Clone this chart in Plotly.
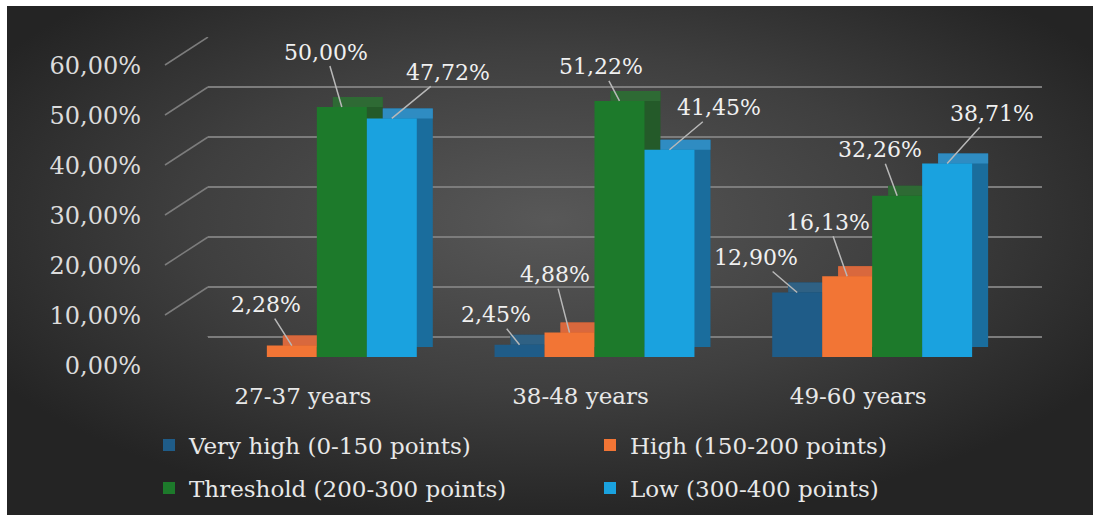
import base64
import plotly.graph_objects as go

# ---------------- data ----------------
categories = ["27-37 years", "38-48 years", "49-60 years"]
series_names = ["Very high (0-150 points)", "High (150-200 points)",
                "Threshold (200-300 points)", "Low (300-400 points)"]
very_high = [0.00, 2.45, 12.90]
high = [2.28, 4.88, 16.13]
threshold = [50.00, 51.22, 32.26]
low = [47.72, 41.45, 38.71]
y_ticks = [0, 10, 20, 30, 40, 50, 60]

series_values = [very_high, high, threshold, low]

# ---------------- style ----------------
W, H = 1093, 515
front_colors = ["#1f5c88", "#f27535", "#1d7a2b", "#1aa2df"]
side_colors = ["#184868", "#c45a2c", "#245a29", "#1a6d9d"]
top_colors = ["#2f6184", "#d9683d", "#2e6a34", "#2f8cc2"]
legend_ids = ["legend", "legend", "legend2", "legend2"]
FONT = "DejaVu Serif"
TXT = "#e8e8e8"
GRID = "#7c7c7c"
DEPTH_DX, DEPTH_DY = 16, 10      # pixels
TOP_H = DEPTH_DY / 5             # top-face height in value units (5 px per %)

def px_x(p):
    return p / W

def px_y(p):
    return 1 - p / H

label_offsets = [
    [None, (-24, -30), (-41, -35)],
    [(-26, -41), (-15, -58), (-19, -54)],
    [(-16, -55), (-18, -34), (-17, -46)],
    [(56, -46), (50, -42), (45, -50)],
]

fig = go.Figure()

# holder for the back-wall grid subplot
fig.add_trace(go.Scatter(x=[0, 1], y=[0, 60], mode="markers",
                         marker=dict(opacity=0), hoverinfo="skip",
                         showlegend=False, xaxis="x", yaxis="y"))

# side faces (shifted copies)
for name, vals, col in zip(series_names, series_values, side_colors):
    fig.add_trace(go.Bar(x=categories, y=vals, name=name, marker_color=col,
                         marker_line_width=0, showlegend=False,
                         hoverinfo="skip", xaxis="x2", yaxis="y2"))

# top faces (shifted thin slabs at the value)
for name, vals, col in zip(series_names, series_values, top_colors):
    fig.add_trace(go.Bar(x=categories,
                         y=[TOP_H if v > 0 else 0 for v in vals],
                         base=[max(v - TOP_H, 0) for v in vals],
                         name=name, marker_color=col,
                         marker_line_width=0, showlegend=False,
                         hoverinfo="skip", xaxis="x3", yaxis="y3"))

# front faces
for name, vals, col, lg in zip(series_names, series_values, front_colors, legend_ids):
    fig.add_trace(go.Bar(x=categories, y=vals, name=name, marker_color=col,
                         marker_line_width=0, xaxis="x4", yaxis="y4",
                         legend=lg))

bar_w = (1 - 0.28) / 4
annotations = []
for si, vals in enumerate(series_values):
    for gi, v in enumerate(vals):
        off = label_offsets[si][gi]
        if off is None or v == 0:
            continue
        xpos = gi + (si - 1.5) * bar_w
        annotations.append(dict(
            x=xpos, y=v, xref="x4", yref="y4",
            text=f"{v:.2f}".replace(".", ",") + "%",
            showarrow=True, arrowhead=0, arrowwidth=1.5, arrowcolor="#b8b8b8",
            ax=off[0], ay=off[1], axref="pixel", ayref="pixel",
            font=dict(family=FONT, size=22, color="#f0f0f0"),
        ))

shapes = []
for t in y_ticks:
    shapes.append(dict(type="line", xref="paper", yref="y",
                       x0=px_x(165), x1=px_x(208), y0=t - 28 / 5, y1=t,
                       line=dict(color=GRID, width=1.5)))

svg = f'''<svg xmlns="http://www.w3.org/2000/svg" width="{W-7}" height="{H-6}" preserveAspectRatio="none" viewBox="0 0 {W-7} {H-6}">
<defs><radialGradient id="g" cx="50%" cy="42%" r="60%">
<stop offset="0%" stop-color="#585858"/>
<stop offset="55%" stop-color="#3f3f3f"/>
<stop offset="100%" stop-color="#242424"/>
</radialGradient></defs>
<rect x="0" y="0" width="{W-7}" height="{H-6}" fill="url(#g)"/>
</svg>'''
src = "data:image/svg+xml;base64," + base64.b64encode(svg.encode()).decode()

tick_text = [f"{t:.2f}".replace(".", ",") + "%" for t in y_ticks]

shift_x = [px_x(178 + DEPTH_DX), px_x(1011 + DEPTH_DX)]
shift_y = [px_y(357 - DEPTH_DY), px_y(57 - DEPTH_DY)]

legend_style = dict(orientation="h", x=px_x(149), xanchor="left",
                    yanchor="middle", entrywidth=396, entrywidthmode="pixels",
                    font=dict(family=FONT, size=23, color="#e8e8e8"),
                    bgcolor="rgba(0,0,0,0)", itemwidth=30, tracegroupgap=0)

fig.update_layout(
    width=W, height=H,
    margin=dict(l=0, r=0, t=0, b=0, autoexpand=False),
    paper_bgcolor="white",
    plot_bgcolor="rgba(0,0,0,0)",
    barmode="group", bargap=0.28, bargroupgap=0,
    font=dict(family=FONT, color=TXT),
    images=[dict(source=src, xref="paper", yref="paper",
                 x=px_x(7), y=1 - 6 / H, sizex=(W - 7) / W, sizey=(H - 6) / H,
                 xanchor="left", yanchor="top", sizing="stretch", layer="below")],
    xaxis=dict(domain=[px_x(208), px_x(1042)], range=[0, 1], visible=False,
               anchor="y"),
    yaxis=dict(domain=[px_y(337), px_y(37)], range=[0, 60], anchor="x",
               showgrid=True, gridcolor=GRID, gridwidth=1.5,
               zeroline=True, zerolinecolor=GRID, zerolinewidth=1.5,
               tickvals=y_ticks, ticktext=tick_text, ticks="",
               ticklabelshift=29, ticklabelstandoff=66,
               tickfont=dict(family=FONT, size=24, color="#dcdcdc"),
               showline=False),
    xaxis2=dict(domain=shift_x, range=[-0.5, 2.5], type="category",
                visible=False, anchor="y2"),
    yaxis2=dict(domain=shift_y, range=[0, 60], visible=False, anchor="x2"),
    xaxis3=dict(domain=shift_x, range=[-0.5, 2.5], type="category",
                visible=False, anchor="y3"),
    yaxis3=dict(domain=shift_y, range=[0, 60], visible=False, anchor="x3"),
    xaxis4=dict(domain=[px_x(178), px_x(1011)], range=[-0.5, 2.5],
                type="category", anchor="y4", showgrid=False, showline=False,
                ticks="", ticklabelshift=-14, ticklabelstandoff=23,
                tickfont=dict(family=FONT, size=23, color="#e8e8e8")),
    yaxis4=dict(domain=[px_y(357), px_y(57)], range=[0, 60], visible=False,
                anchor="x4"),
    legend=dict(y=px_y(445), **legend_style),
    legend2=dict(y=px_y(488), **legend_style),
    annotations=annotations,
    shapes=shapes,
    showlegend=True,
)

fig.write_html("out.html")
